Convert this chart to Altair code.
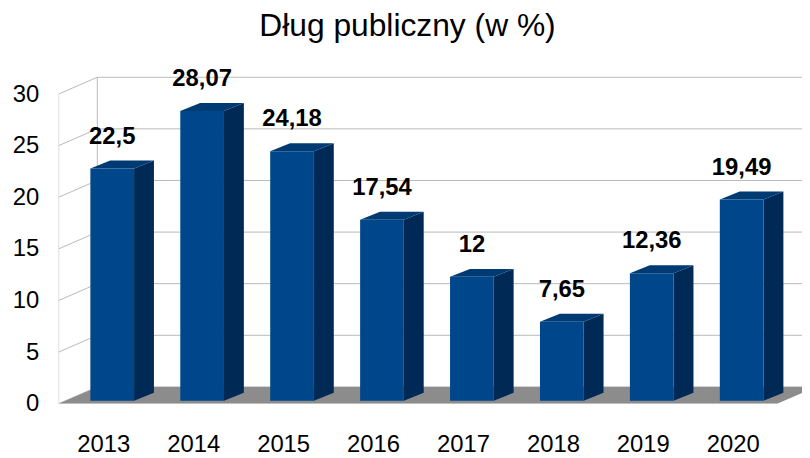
import altair as alt
import pandas as pd

# ---- data ----
years = ["2013", "2014", "2015", "2016", "2017", "2018", "2019", "2020"]
values = [22.5, 28.07, 24.18, 17.54, 12, 7.65, 12.36, 19.49]
value_labels = [f"{v:g}".replace(".", ",") for v in values]
y_ticks = [0, 5, 10, 15, 20, 25, 30]
title_text = "Dług publiczny (w %)"

# ---- 3D geometry (style, in scale units) ----
X_LEFT, X_RIGHT = -0.596, 7.671
Y_TOP = 31.73
WALL_DX, WALL_DY = 0.43, 1.63
BAR_HALF = 0.243
BAR_DX, BAR_DY = 0.221, 0.77
BAR_BASE = 0.29
FLOOR_RIGHT = 7.395
LABEL_GAP = 2.4

FRONT = "#00468a"
SIDE = "#002a55"
TOP = "#003a72"
FLOOR = "#8c8c8c"
GRID = "#b8b8b8"
FONT = "Liberation Sans"

xs = alt.Scale(domain=[X_LEFT, X_RIGHT], nice=False, zero=False)
ys = alt.Scale(domain=[0, Y_TOP], nice=False, zero=False)
x_axis = alt.Axis(values=list(range(len(years))), title=None, grid=False, domain=False,
                  ticks=False, labelFontSize=24, labelFont=FONT, labelColor="#000000",
                  labelPadding=29, labelOffset=-9,
                  labelExpr="[" + ",".join(f"'{y}'" for y in years) + "][datum.value]")
y_axis = alt.Axis(values=y_ticks, title=None, grid=False, domain=False, ticks=False,
                  labelFontSize=24, labelFont=FONT, labelColor="#000000", labelPadding=20)


def X(f):
    return alt.X(f, type="quantitative", scale=xs, axis=x_axis)


def Y(f):
    return alt.Y(f, type="quantitative", scale=ys, axis=y_axis, stack=None)


# walls / gridlines
rules = []
for v in y_ticks:
    rules.append(dict(x=X_LEFT + WALL_DX, y=v + WALL_DY, x2=X_RIGHT, y2=v + WALL_DY))
    rules.append(dict(x=X_LEFT, y=v, x2=X_LEFT + WALL_DX, y2=v + WALL_DY))
rules.append(dict(x=X_LEFT, y=0, x2=X_LEFT, y2=y_ticks[-1]))
rules.append(dict(x=X_LEFT + WALL_DX, y=WALL_DY, x2=X_LEFT + WALL_DX, y2=y_ticks[-1] + WALL_DY))
grid = alt.Chart(pd.DataFrame(rules)).mark_rule(color=GRID, strokeWidth=1, clip=True).encode(
    x=X("x"), y=Y("y"), x2="x2:Q", y2="y2:Q")

# floor
floor_df = pd.DataFrame([
    dict(x=X_LEFT, lo=0, hi=0),
    dict(x=X_LEFT + WALL_DX, lo=0, hi=WALL_DY),
    dict(x=FLOOR_RIGHT, lo=0, hi=WALL_DY),
    dict(x=FLOOR_RIGHT + WALL_DX, lo=WALL_DY, hi=WALL_DY),
])
floor = alt.Chart(floor_df).mark_area(color=FLOOR, clip=True, orient="vertical").encode(
    x=X("x"), y=Y("lo"), y2="hi:Q")

# bars
front_rows, side_rows, top_rows, lab_rows = [], [], [], []
for i, (yr, v, lab) in enumerate(zip(years, values, value_labels)):
    xl, xr = i - BAR_HALF, i + BAR_HALF
    t = v + BAR_BASE
    front_rows.append(dict(xl=xl, xr=xr, b=BAR_BASE, t=t))
    side_rows += [dict(bar=yr, x=xr, lo=BAR_BASE, hi=t),
                  dict(bar=yr, x=xr + BAR_DX, lo=BAR_BASE + BAR_DY, hi=t + BAR_DY)]
    top_rows += [dict(bar=yr, x=xl, lo=t, hi=t),
                 dict(bar=yr, x=xl + BAR_DX, lo=t, hi=t + BAR_DY),
                 dict(bar=yr, x=xr, lo=t, hi=t + BAR_DY),
                 dict(bar=yr, x=xr + BAR_DX, lo=t + BAR_DY, hi=t + BAR_DY)]
    lab_rows.append(dict(x=i, y=t + LABEL_GAP, label=lab))

side = alt.Chart(pd.DataFrame(side_rows)).mark_area(color=SIDE, orient="vertical").encode(
    x=X("x"), y=Y("lo"), y2="hi:Q", detail="bar:N")
top = alt.Chart(pd.DataFrame(top_rows)).mark_area(color=TOP, orient="vertical").encode(
    x=X("x"), y=Y("lo"), y2="hi:Q", detail="bar:N")
front = alt.Chart(pd.DataFrame(front_rows)).mark_rect(color=FRONT).encode(
    x=X("xl"), x2="xr:Q", y=Y("b"), y2="t:Q")
labels = alt.Chart(pd.DataFrame(lab_rows)).mark_text(
    font=FONT, fontSize=24, fontWeight="bold", color="#000000",
    align="center", baseline="alphabetic").encode(
    x=X("x"), y=Y("y"), text="label:N")

chart = alt.layer(grid, floor, side, top, front, labels).properties(
    width=749, height=330,
    autosize="none",
    padding={"left": 51, "top": 67, "right": 0, "bottom": 58},
    title=alt.TitleParams(title_text, font=FONT, fontSize=32, fontWeight="normal",
                          color="#000000", anchor="middle", dx=-23, offset=25),
).configure_view(stroke=None)

chart.save("out.html", embed_options={"renderer": "svg", "actions": False})
